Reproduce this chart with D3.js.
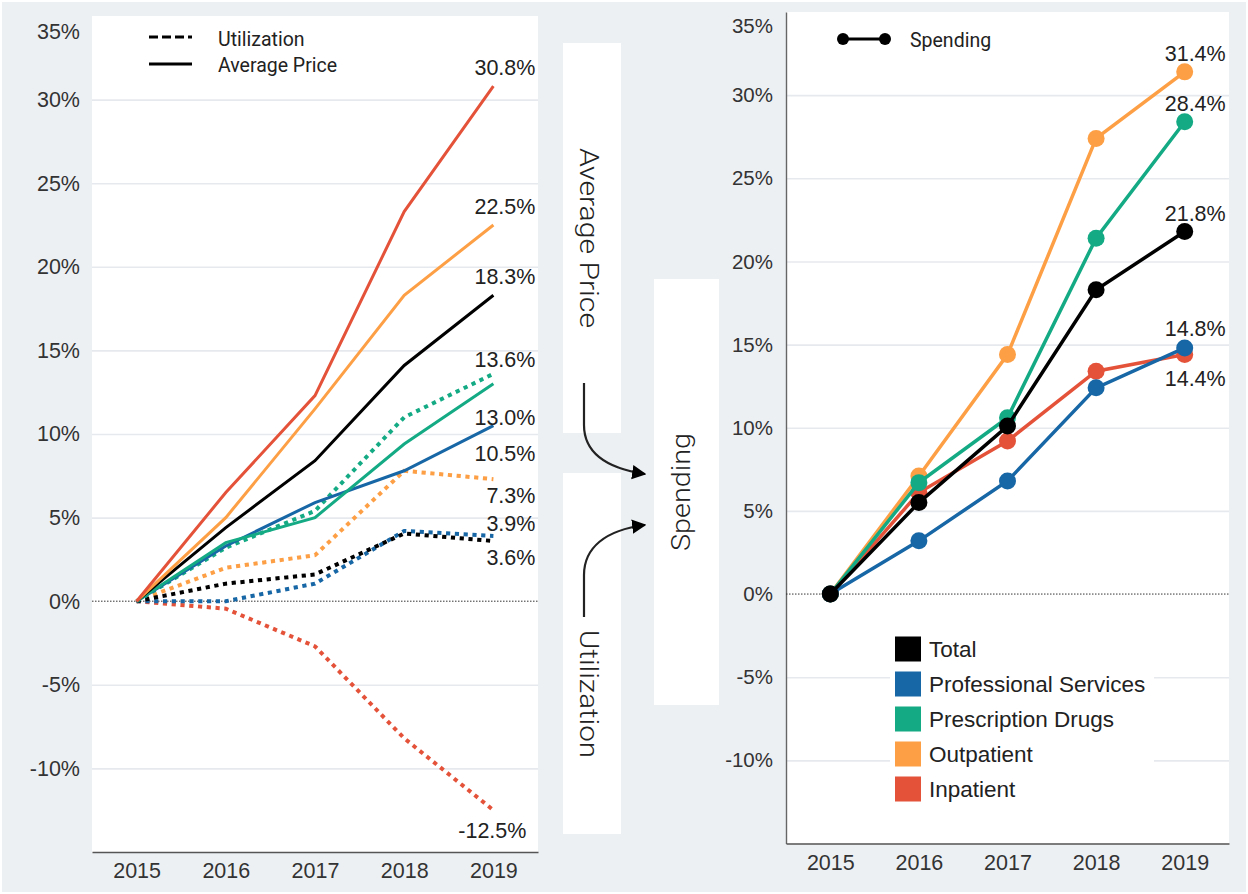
<!DOCTYPE html>
<html>
<head>
<meta charset="utf-8">
<script src="https://cdn.jsdelivr.net/npm/d3@7"></script>
<style>
  html, body { margin: 0; padding: 0; background: #ffffff; }
  svg { display: block; }
</style>
</head>
<body>
<svg id="chart" width="1248" height="894"></svg>
<script>
// ---------------- DATA ----------------
const years = ['2015', '2016', '2017', '2018', '2019'];
const categories = ['Total', 'Professional Services', 'Prescription Drugs', 'Outpatient', 'Inpatient'];
const yTicks = [-10, -5, 0, 5, 10, 15, 20, 25, 30, 35];

// Average price growth (%), cumulative since 2015
const priceTotal = [0, 4.4, 8.4, 14.1, 18.3];
const priceProf  = [0, 3.3, 5.9, 7.8, 10.5];
const pricePresc = [0, 3.5, 5.0, 9.4, 13.0];
const priceOut   = [0, 5.0, 11.5, 18.3, 22.5];
const priceIn    = [0, 6.5, 12.3, 23.3, 30.8];

// Utilization growth (%)
const utilTotal = [0, 1.05, 1.6, 4.05, 3.6];
const utilProf  = [0, 0.0, 1.05, 4.2, 3.9];
const utilPresc = [0, 3.2, 5.4, 11.0, 13.6];
const utilOut   = [0, 2.0, 2.75, 7.8, 7.3];
const utilIn    = [0, -0.45, -2.7, -8.2, -12.5];

// Spending growth (%)
const spendTotal = [0, 5.5, 10.1, 18.3, 21.8];
const spendProf  = [0, 3.2, 6.8, 12.4, 14.8];
const spendPresc = [0, 6.7, 10.6, 21.4, 28.4];
const spendOut   = [0, 7.1, 14.4, 27.4, 31.4];
const spendIn    = [0, 6.1, 9.2, 13.4, 14.4];

const legendLeft = ['Utilization', 'Average Price'];
const legendRightTop = ['Spending'];
const flowLabels = ['Average Price', 'Utilization', 'Spending'];

// ---------------- STYLE / LAYOUT ----------------
const colors = {
  'Total': '#000000',
  'Professional Services': '#1766a5',
  'Prescription Drugs': '#13aa84',
  'Outpatient': '#fd9f45',
  'Inpatient': '#e4523a'
};
const axisFont = 'Liberation Sans, Arial, sans-serif';
const textFont = 'Roboto, Liberation Sans, sans-serif';
const textColor = '#222';

const svg = d3.select('#chart');

// background
svg.append('rect').attr('x', 2).attr('y', 2).attr('width', 1244).attr('height', 890).attr('fill', '#edf0f3');

// ---------- LEFT PANEL ----------
const L = { x0: 92, x1: 538, y0: 16, y1: 852 };
const xL = d3.scalePoint().domain(years).range([L.x0, L.x1]).padding(0.5);
const yL = d3.scaleLinear().domain([-15, 35]).range([L.y1, L.y0]);

const gL = svg.append('g');
gL.append('rect').attr('x', L.x0).attr('y', L.y0).attr('width', L.x1 - L.x0).attr('height', L.y1 - L.y0).attr('fill', '#fff');

// grid
gL.append('g').attr('transform', `translate(${L.x0},0)`)
  .call(d3.axisLeft(yL).tickValues(yTicks.filter(d => d !== 0 && d !== 35)).tickSize(-(L.x1 - L.x0)).tickFormat(''))
  .call(g => g.select('.domain').remove())
  .call(g => g.selectAll('line').attr('stroke', '#e6e9ee').attr('stroke-width', 1.6));

// y labels
const yAxL = gL.append('g').attr('transform', `translate(${L.x0},0)`)
  .call(d3.axisLeft(yL).tickValues(yTicks).tickSize(0).tickPadding(12).tickFormat(d => d + '%'))
  .call(g => g.select('.domain').remove());
yAxL.selectAll('text').attr('font-family', axisFont).attr('font-size', 21.5).attr('fill', '#333');
yAxL.selectAll('.tick').filter(d => d === 35).select('text').attr('dy', '1.05em');

// zero line
gL.append('line').attr('x1', L.x0).attr('x2', L.x1).attr('y1', yL(0)).attr('y2', yL(0))
  .attr('stroke', '#333').attr('stroke-width', 1).attr('stroke-dasharray', '1.5,1.5');

// x axis
const xAxL = gL.append('g').attr('transform', `translate(0,${L.y1})`)
  .call(d3.axisBottom(xL).tickSize(0).tickPadding(11));
xAxL.select('.domain').attr('stroke', '#555').attr('stroke-width', 1.6);
xAxL.selectAll('text').attr('font-family', axisFont).attr('font-size', 21.5).attr('fill', '#333');

const lineL = d3.line().x((d, i) => xL(years[i])).y(d => yL(d));

const utilSeries = [
  ['Inpatient', utilIn], ['Outpatient', utilOut], ['Professional Services', utilProf],
  ['Total', utilTotal], ['Prescription Drugs', utilPresc]
];
const priceSeries = [
  ['Professional Services', priceProf], ['Prescription Drugs', pricePresc],
  ['Total', priceTotal], ['Outpatient', priceOut], ['Inpatient', priceIn]
];

gL.selectAll('path.util').data(utilSeries).join('path').attr('class', 'util')
  .attr('d', d => lineL(d[1])).attr('fill', 'none').attr('stroke', d => colors[d[0]])
  .attr('stroke-width', 4).attr('stroke-dasharray', '4.2,4.6');

gL.selectAll('path.price').data(priceSeries).join('path').attr('class', 'price')
  .attr('d', d => lineL(d[1])).attr('fill', 'none').attr('stroke', d => colors[d[0]])
  .attr('stroke-width', 3);

// end labels (left)
const leftLabels = [priceIn, priceOut, priceTotal, utilPresc, pricePresc, priceProf, utilOut, utilProf, utilTotal, utilIn];
const leftLabelOffsets = [[0, -19], [0, -19], [0, -19], [0, -15], [0, 33], [0, 28], [0, 16], [0, -13], [0, 16], [-9, 20]];
gL.selectAll('text.endlab').data(leftLabels).join('text').attr('class', 'endlab')
  .attr('x', (d, i) => xL(years[4]) + 42 + leftLabelOffsets[i][0])
  .attr('y', (d, i) => yL(d[4]) + leftLabelOffsets[i][1])
  .attr('dy', '0.36em').attr('text-anchor', 'end')
  .attr('font-family', axisFont).attr('font-size', 21.5).attr('fill', textColor)
  .text(d => d[4].toFixed(1) + '%');

// left legend
const legL = gL.append('g');
legL.append('line').attr('x1', 149).attr('x2', 192).attr('y1', 37).attr('y2', 37)
  .attr('stroke', '#000').attr('stroke-width', 3).attr('stroke-dasharray', '9,4');
legL.append('line').attr('x1', 149).attr('x2', 192).attr('y1', 64).attr('y2', 64)
  .attr('stroke', '#000').attr('stroke-width', 3);
legL.selectAll('text').data(legendLeft).join('text')
  .attr('x', 218).attr('y', (d, i) => 39 + i * 26).attr('dy', '0.36em')
  .attr('font-family', textFont).attr('font-size', 19.5).attr('fill', textColor).text(d => d);

// ---------- MIDDLE FLOW ----------
const gM = svg.append('g');
gM.append('rect').attr('x', 563).attr('y', 43).attr('width', 58).attr('height', 390).attr('fill', '#fff');
gM.append('rect').attr('x', 563).attr('y', 473).attr('width', 58).attr('height', 361).attr('fill', '#fff');
gM.append('rect').attr('x', 654).attr('y', 279).attr('width', 65).attr('height', 426).attr('fill', '#fff');

const flowPos = [[589, 238, 90, 180], [589, 694, 90, 128], [681, 492, -90, 118]];
gM.selectAll('text').data(flowLabels).join('text')
  .attr('transform', (d, i) => `translate(${flowPos[i][0]},${flowPos[i][1]}) rotate(${flowPos[i][2]})`)
  .attr('text-anchor', 'middle').attr('dy', '0.35em')
  .attr('font-family', textFont).attr('font-weight', 300).attr('font-size', 25).attr('fill', '#222')
  .attr('textLength', (d, i) => flowPos[i][3]).attr('lengthAdjust', 'spacingAndGlyphs')
  .text(d => d);

svg.append('defs').append('marker').attr('id', 'arrow')
  .attr('viewBox', '0 0 10 10').attr('refX', 9).attr('refY', 5)
  .attr('markerWidth', 6.5).attr('markerHeight', 8.5).attr('markerUnits', 'strokeWidth').attr('orient', 'auto')
  .append('path').attr('d', 'M0,0 L10,5 L0,10 Z').attr('fill', '#000');

gM.append('path').attr('d', 'M584,383 L584,425 C584,452 605,468 645,474')
  .attr('fill', 'none').attr('stroke', '#222').attr('stroke-width', 2.2).attr('marker-end', 'url(#arrow)');
gM.append('path').attr('d', 'M584,617 L584,575 C584,548 605,530 645,525')
  .attr('fill', 'none').attr('stroke', '#222').attr('stroke-width', 2.2).attr('marker-end', 'url(#arrow)');

// ---------- RIGHT PANEL ----------
const R = { x0: 786, x1: 1229, y0: 12, y1: 843.5 };
const xR = d3.scalePoint().domain(years).range([R.x0, R.x1]).padding(0.5);
const yR = d3.scaleLinear().domain([-15, 35]).range([R.y1, R.y0]);
const gR = svg.append('g');
gR.append('rect').attr('x', R.x0).attr('y', R.y0).attr('width', R.x1 - R.x0).attr('height', R.y1 - R.y0).attr('fill', '#fff');

gR.append('g').attr('transform', `translate(${R.x0},0)`)
  .call(d3.axisLeft(yR).tickValues(yTicks.filter(d => d !== 0 && d !== 35)).tickSize(-(R.x1 - R.x0)).tickFormat(''))
  .call(g => g.select('.domain').remove())
  .call(g => g.selectAll('line').attr('stroke', '#e6e9ee').attr('stroke-width', 1.6));

const yAxR = gR.append('g').attr('transform', `translate(${R.x0},0)`)
  .call(d3.axisLeft(yR).tickValues(yTicks).tickSize(0).tickPadding(13).tickFormat(d => d + '%'));
yAxR.select('.domain').attr('stroke', '#666').attr('stroke-width', 1.4);
yAxR.selectAll('text').attr('font-family', axisFont).attr('font-size', 20.5).attr('fill', '#333');
yAxR.selectAll('.tick').filter(d => d === 35).select('text').attr('dy', '1.0em');

gR.append('line').attr('x1', R.x0).attr('x2', R.x1).attr('y1', yR(0)).attr('y2', yR(0))
  .attr('stroke', '#333').attr('stroke-width', 1).attr('stroke-dasharray', '1.5,1.5');

const xAxR = gR.append('g').attr('transform', `translate(0,${R.y1})`)
  .call(d3.axisBottom(xR).tickSize(0).tickPadding(11));
xAxR.select('.domain').attr('stroke', '#555').attr('stroke-width', 1.6);
xAxR.selectAll('text').attr('font-family', axisFont).attr('font-size', 21.5).attr('fill', '#333');

// legend background (hides gridlines)
const legR = gR.append('g');
legR.append('rect').attr('x', 890).attr('y', 630).attr('width', 264).attr('height', 176).attr('fill', '#fff');

const spendSeries = [
  ['Inpatient', spendIn], ['Outpatient', spendOut], ['Prescription Drugs', spendPresc],
  ['Professional Services', spendProf], ['Total', spendTotal]
];
const lineR = d3.line().x((d, i) => xR(years[i])).y(d => yR(d));
const sg = gR.selectAll('g.spend').data(spendSeries).join('g').attr('class', 'spend');
sg.append('path').attr('d', d => lineR(d[1])).attr('fill', 'none')
  .attr('stroke', d => colors[d[0]]).attr('stroke-width', 3.5);
sg.selectAll('circle').data(d => d[1].map((v, i) => ({ v, i, c: colors[d[0]] }))).join('circle')
  .attr('cx', d => xR(years[d.i])).attr('cy', d => yR(d.v)).attr('r', 8.5).attr('fill', d => d.c);

const rightLabels = [spendOut, spendPresc, spendTotal, spendProf, spendIn];
const rightLabelOffsets = [-18.5, -18, -18, -20, 24];
gR.selectAll('text.endlab').data(rightLabels).join('text').attr('class', 'endlab')
  .attr('x', xR(years[4]) + 41).attr('y', (d, i) => yR(d[4]) + rightLabelOffsets[i])
  .attr('dy', '0.36em').attr('text-anchor', 'end')
  .attr('font-family', axisFont).attr('font-size', 21.5).attr('fill', textColor)
  .text(d => d[4].toFixed(1) + '%');

// top legend
const legT = gR.append('g');
legT.append('line').attr('x1', 843).attr('x2', 885).attr('y1', 39).attr('y2', 39).attr('stroke', '#000').attr('stroke-width', 3);
legT.selectAll('circle').data([843, 885]).join('circle').attr('cx', d => d).attr('cy', 39).attr('r', 6).attr('fill', '#000');
legT.selectAll('text').data(legendRightTop).join('text').attr('x', 910).attr('y', 40).attr('dy', '0.36em')
  .attr('font-family', textFont).attr('font-size', 19.5).attr('fill', textColor).text(d => d);

// bottom legend
const legRows = legR.selectAll('g.row').data(categories).join('g').attr('class', 'row')
  .attr('transform', (d, i) => `translate(895,${649 + i * 35})`);
legRows.append('rect').attr('x', 0).attr('y', -12.5).attr('width', 26).attr('height', 25).attr('fill', d => colors[d]);
legRows.append('text').attr('x', 34).attr('y', 0).attr('dy', '0.36em')
  .attr('font-family', axisFont).attr('font-size', 22.5).attr('fill', textColor).text(d => d);
</script>
</body>
</html>
